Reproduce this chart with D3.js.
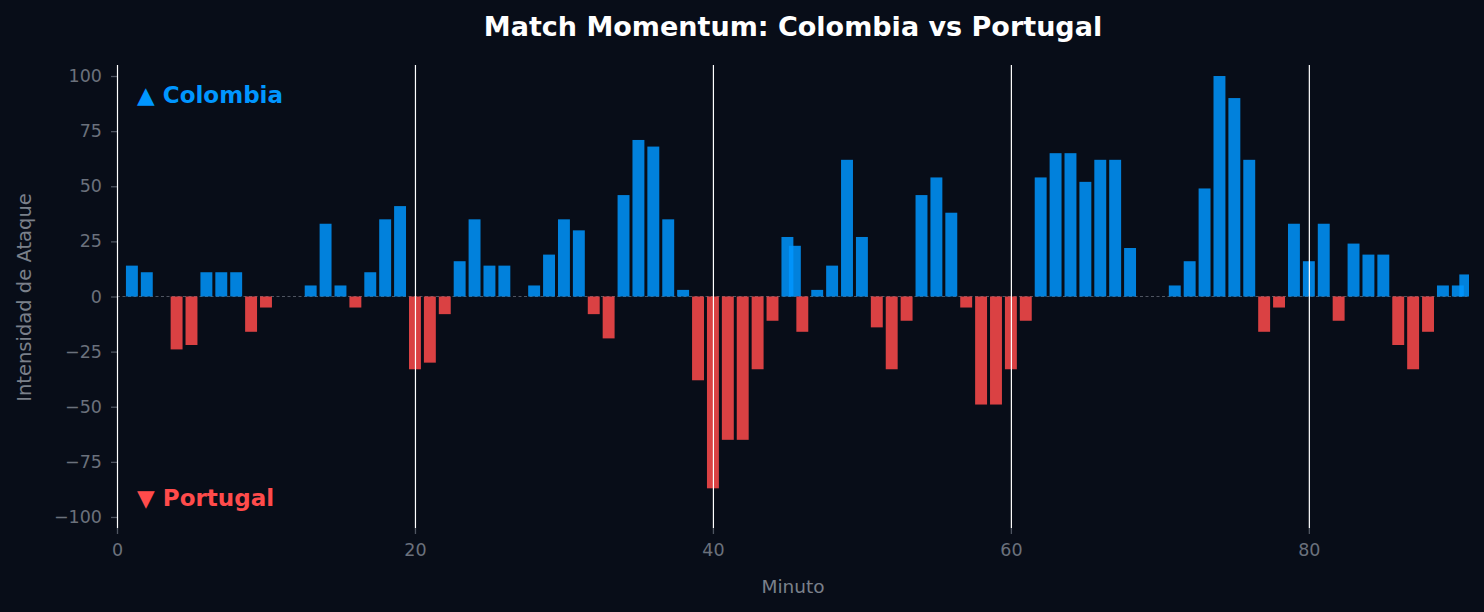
<!DOCTYPE html>
<html>
<head>
<meta charset="utf-8">
<script src="https://cdn.jsdelivr.net/npm/d3@7"></script>
<style>
  html, body { margin: 0; padding: 0; background: #080d18; }
  svg { display: block; font-family: "DejaVu Sans", sans-serif; }
</style>
</head>
<body>
<svg width="1484" height="612"></svg>
<script>
// minute of the match (45.5 and 90.5 = stoppage time)
var minutes = [1, 2, 3, 4, 5, 6, 7, 8, 9, 10,
  11, 12, 13, 14, 15, 16, 17, 18, 19, 20,
  21, 22, 23, 24, 25, 26, 27, 28, 29, 30,
  31, 32, 33, 34, 35, 36, 37, 38, 39, 40,
  41, 42, 43, 44, 45, 45.5, 46, 47, 48, 49, 50,
  51, 52, 53, 54, 55, 56, 57, 58, 59, 60,
  61, 62, 63, 64, 65, 66, 67, 68, 69, 70,
  71, 72, 73, 74, 75, 76, 77, 78, 79, 80,
  81, 82, 83, 84, 85, 86, 87, 88, 89, 90, 90.5];

// attack intensity: + Colombia, - Portugal
var intensity = [14, 11, 0, -24, -22, 11, 11, 11, -16, -5,
  0, 0, 5, 33, 5, -5, 11, 35, 41, -33,
  -30, -8, 16, 35, 14, 14, 0, 5, 19, 35,
  30, -8, -19, 46, 71, 68, 35, 3, -38, -87,
  -65, -65, -33, -11, 27, 23, -16, 3, 14, 62, 27,
  -14, -33, -11, 46, 54, 38, -5, -49, -49, -33,
  -11, 54, 65, 65, 52, 62, 62, 22, 0, 0,
  5, 16, 49, 100, 90, 62, -16, -5, 33, 16,
  33, -11, 24, 19, 19, -22, -33, -16, 5, 5, 10];

var yTicks = [-100, -75, -50, -25, 0, 25, 50, 75, 100];
var xTicks = [0, 20, 40, 60, 80];
var markerMinutes = [0, 20, 40, 60, 80];

var data = minutes.map(function(m, i) { return {minute: m, value: intensity[i]}; });

var svg = d3.select("svg"),
    margin = {top: 65, right: 15, bottom: 84, left: 117},
    width = 1484 - margin.left - margin.right,
    height = 612 - margin.top - margin.bottom,
    g = svg.append("g").attr("transform", "translate(" + margin.left + "," + margin.top + ")");

var x = d3.scaleLinear().domain([0, 90.75]).range([0, width]);
var y = d3.scaleLinear().domain([-105, 105]).range([height, 0]);

var barW = x(0.8) - x(0);

g.append("defs").append("clipPath").attr("id", "plotclip")
  .append("rect").attr("width", width).attr("height", height);

// y axis
var yAxis = g.append("g")
    .call(d3.axisLeft(y).tickValues(yTicks).tickSize(6).tickPadding(9));
// x axis
var xAxis = g.append("g")
    .attr("transform", "translate(0," + height + ")")
    .call(d3.axisBottom(x).tickValues(xTicks).tickSize(6).tickPadding(10).tickFormat(d3.format("d")));

[yAxis, xAxis].forEach(function(a) {
  a.select(".domain").remove();
  a.selectAll(".tick line").attr("stroke", "#4f5561").attr("stroke-width", 1.3);
  a.selectAll(".tick text").attr("fill", "#6b717c").style("font-size", "17.5px").style("font-family", "DejaVu Sans");
});

// zero line
g.append("line")
  .attr("x1", 0).attr("x2", width)
  .attr("y1", y(0)).attr("y2", y(0))
  .attr("stroke", "#4f5561").attr("stroke-width", 1)
  .attr("stroke-dasharray", "3,2.5");

// bars
g.append("g").attr("clip-path", "url(#plotclip)")
  .selectAll("rect")
  .data(data.filter(function(d) { return d.value !== 0; }))
  .enter().append("rect")
    .attr("x", function(d) { return x(d.minute) - barW / 2; })
    .attr("width", barW)
    .attr("y", function(d) { return y(Math.max(0, d.value)); })
    .attr("height", function(d) { return Math.abs(y(d.value) - y(0)); })
    .attr("fill", function(d) { return d.value > 0 ? "#0096ff" : "#ff4b4b"; })
    .attr("fill-opacity", 0.85);

// period marker lines
g.append("g").selectAll("line")
  .data(markerMinutes)
  .enter().append("line")
    .attr("x1", function(d) { return x(d) + 0.5; })
    .attr("x2", function(d) { return x(d) + 0.5; })
    .attr("y1", 0).attr("y2", height)
    .attr("stroke", "#ffffff").attr("stroke-width", 1.2);

// team labels
g.append("text")
  .attr("x", x(1.35)).attr("y", y(87.7))
  .attr("fill", "#0096ff")
  .style("font-weight", "bold").style("font-size", "23px")
  .text("▲ Colombia");

g.append("text")
  .attr("x", x(1.35)).attr("y", y(-95.2))
  .attr("fill", "#ff4b4b")
  .style("font-weight", "bold").style("font-size", "23px")
  .text("▼ Portugal");

// title
svg.append("text")
  .attr("x", margin.left + width / 2).attr("y", 36)
  .attr("text-anchor", "middle")
  .attr("fill", "#ffffff")
  .style("font-weight", "bold").style("font-size", "27px")
  .text("Match Momentum: Colombia vs Portugal");

// axis labels
svg.append("text")
  .attr("x", margin.left + width / 2).attr("y", 593)
  .attr("text-anchor", "middle")
  .attr("fill", "#7a808a")
  .style("font-size", "18.5px")
  .text("Minuto");

svg.append("text")
  .attr("transform", "translate(31," + (margin.top + y(0) + 1) + ") rotate(-90)")
  .attr("text-anchor", "middle")
  .attr("fill", "#7a808a")
  .style("font-size", "19.5px")
  .text("Intensidad de Ataque");
</script>
</body>
</html>
